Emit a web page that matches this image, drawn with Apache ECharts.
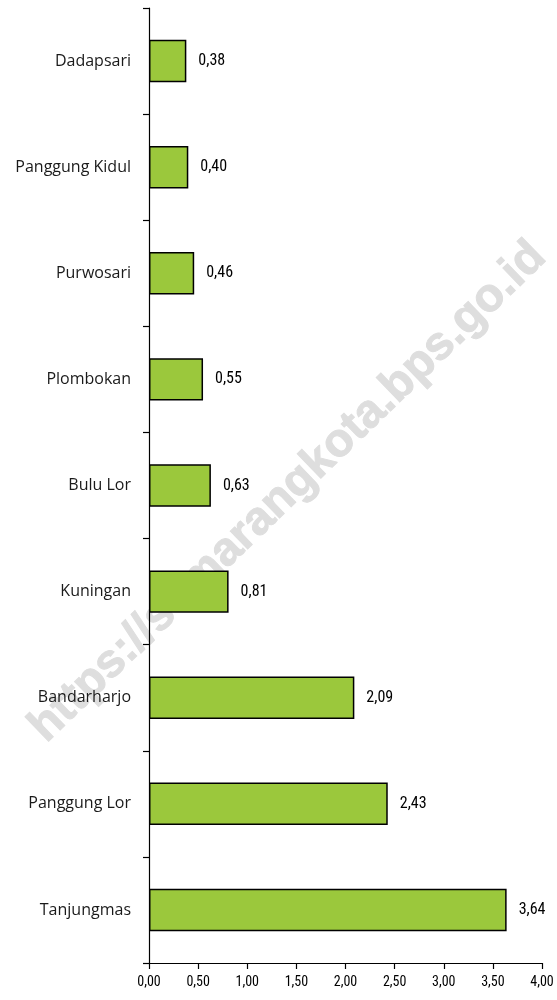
<!DOCTYPE html>
<html><head><meta charset="utf-8">
<script src="https://cdn.jsdelivr.net/npm/echarts@6/dist/echarts.min.js"></script>
<style>html,body{margin:0;padding:0;background:#fff}#c{width:557px;height:1000px}</style>
</head><body><div id="c"></div>
<script>
var categories = ["Dadapsari","Panggung Kidul","Purwosari","Plombokan","Bulu Lor","Kuningan","Bandarharjo","Panggung Lor","Tanjungmas"];
var values = [0.38,0.40,0.46,0.55,0.63,0.81,2.09,2.43,3.64];
var fmt = function(v){return Number(v).toFixed(2).replace('.',',');};
var chart = echarts.init(document.getElementById('c'));
chart.setOption({
  animation:false,
  backgroundColor:'#fff',
  grid:{left:149,right:15,top:8,bottom:37,containLabel:false},
  graphic:[{type:'text',x:288,y:492,rotation:44*Math.PI/180,z:-10,silent:true,
    style:{text:'https://semarangkota.bps.go.id',font:'bold 47px "Liberation Sans", Arial, sans-serif',fill:'#dedede',stroke:'#dedede',lineWidth:1,textAlign:'center',textVerticalAlign:'middle'}}],
  xAxis:{type:'value',min:0,max:4,interval:0.5,
    axisLine:{show:true,lineStyle:{color:'#000',width:1.2}},
    axisTick:{show:true,length:6,lineStyle:{color:'#000',width:1.2}},
    splitLine:{show:false},
    axisLabel:{formatter:fmt,color:'#000',fontFamily:'"Liberation Sans Narrow","Roboto Condensed",sans-serif',fontSize:14,margin:12}},
  yAxis:{type:'category',data:categories,inverse:true,
    axisLine:{show:true,lineStyle:{color:'#000',width:1.2}},
    axisTick:{show:true,length:6,lineStyle:{color:'#000',width:1.2}},
    axisLabel:{color:'#1a1a1a',fontFamily:'"Open Sans","Noto Sans",sans-serif',fontSize:16,margin:18}},
  series:[{type:'bar',data:values,barCategoryGap:'60%',z:3,
    itemStyle:{color:'#9BC83C',borderColor:'#000',borderWidth:1.5},
    label:{show:true,position:'right',distance:12,formatter:function(p){return fmt(p.value);},
      color:'#000',fontFamily:'"Liberation Sans Narrow","Roboto Condensed",sans-serif',fontSize:16}}]
});
</script></body></html>
